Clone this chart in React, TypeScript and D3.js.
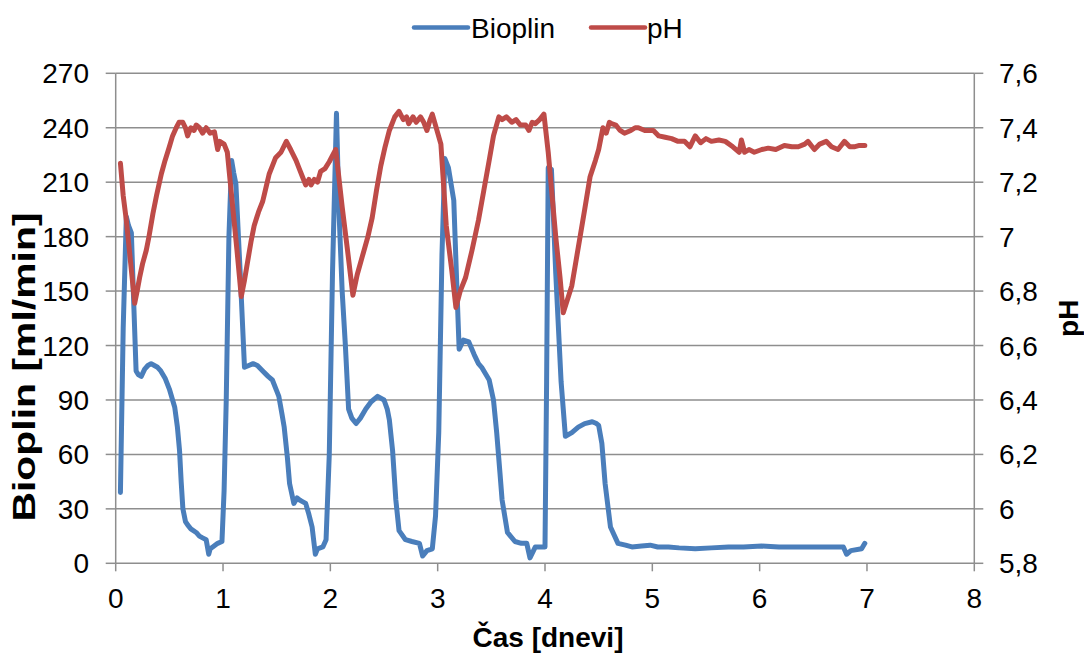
import React from "react";
import * as d3 from "d3";

const bioDays = [0.044,0.07,0.099,0.12,0.146,0.17,0.19,0.21,0.238,0.27,0.30,0.33,0.36,0.39,0.42,0.46,0.50,0.53,0.55,0.575,0.595,0.61,0.626,0.65,0.672,0.70,0.75,0.78,0.81,0.843,0.867,0.88,0.904,0.95,0.99,1.01,1.03,1.055,1.08,1.10,1.12,1.16,1.20,1.24,1.28,1.32,1.37,1.42,1.46,1.50,1.52,1.55,1.57,1.60,1.62,1.66,1.69,1.71,1.74,1.77,1.80,1.83,1.86,1.88,1.93,1.96,1.99,2.02,2.057,2.08,2.11,2.14,2.17,2.20,2.24,2.28,2.33,2.38,2.44,2.50,2.53,2.55,2.58,2.61,2.64,2.70,2.76,2.83,2.86,2.90,2.95,2.98,3.01,3.04,3.067,3.10,3.15,3.18,3.20,3.24,3.29,3.34,3.38,3.41,3.45,3.48,3.52,3.55,3.58,3.60,3.65,3.72,3.78,3.83,3.86,3.91,3.96,4.0,4.015,4.03,4.06,4.10,4.15,4.19,4.25,4.31,4.37,4.44,4.48,4.50,4.53,4.56,4.61,4.68,4.75,4.81,4.90,4.98,5.05,5.15,5.25,5.40,5.55,5.71,5.85,6.02,6.18,6.33,6.48,6.64,6.78,6.81,6.85,6.95,6.98];
const bioValues = [39,130,191,186,182,140,106,104,103,107,109,110,109,108,106,102,96,90,86,75,62,45,30,23,21,19,17,15,14,13,5,8,9,11,12,40,90,180,222,215,209,160,108,109,110,109,106,103,101,95,92,82,75,58,44,33,36,35,34,33,27,20,5,8,9,13,60,160,248,195,150,120,85,80,77,80,85,89,92,90,85,79,62,35,18,13,12,11,4,7,8,26,72,170,223,218,200,150,118,123,122,115,110,108,104,101,90,72,50,35,17,12,11,11,3,9,9,9,100,218,217,160,100,70,72,75,77,78,77,76,66,44,20,11,10,9,9.5,10,9,9,8.5,8,8.5,9,9,9.5,9,9,9,9,9,5,7,8,11];

const phDays = [0.044,0.07,0.099,0.14,0.177,0.20,0.223,0.25,0.285,0.31,0.347,0.38,0.425,0.46,0.50,0.53,0.564,0.59,0.625,0.65,0.67,0.70,0.73,0.75,0.78,0.81,0.843,0.88,0.92,0.95,0.97,1.01,1.04,1.09,1.13,1.17,1.20,1.23,1.26,1.29,1.33,1.37,1.40,1.43,1.46,1.49,1.54,1.59,1.63,1.68,1.71,1.74,1.77,1.80,1.82,1.85,1.88,1.91,1.95,1.99,2.05,2.11,2.16,2.21,2.25,2.30,2.35,2.39,2.43,2.47,2.51,2.55,2.60,2.64,2.68,2.71,2.73,2.77,2.80,2.84,2.87,2.90,2.93,2.95,3.03,3.08,3.13,3.17,3.21,3.26,3.32,3.38,3.43,3.48,3.52,3.57,3.60,3.64,3.69,3.73,3.77,3.82,3.85,3.88,3.91,3.95,3.99,4.03,4.10,4.14,4.17,4.21,4.25,4.31,4.37,4.42,4.47,4.50,4.54,4.57,4.60,4.62,4.66,4.70,4.74,4.80,4.84,4.87,4.93,5.01,5.06,5.12,5.18,5.24,5.30,5.35,5.40,5.45,5.50,5.55,5.62,5.68,5.75,5.81,5.83,5.86,5.90,5.95,6.02,6.08,6.15,6.23,6.30,6.36,6.42,6.45,6.51,6.56,6.62,6.67,6.73,6.79,6.84,6.88,6.93,6.98];
const phValues = [7.27,7.15,7.06,6.90,6.755,6.80,6.85,6.90,6.95,7.00,7.085,7.15,7.23,7.28,7.33,7.37,7.40,7.42,7.42,7.40,7.37,7.40,7.39,7.41,7.40,7.38,7.40,7.38,7.385,7.32,7.35,7.34,7.31,7.11,6.95,6.78,6.84,6.91,6.98,7.04,7.09,7.13,7.18,7.23,7.26,7.29,7.31,7.35,7.32,7.28,7.25,7.22,7.19,7.21,7.19,7.21,7.20,7.24,7.25,7.275,7.32,7.11,6.95,6.785,6.86,6.93,7.00,7.07,7.17,7.26,7.33,7.39,7.44,7.46,7.43,7.44,7.415,7.44,7.42,7.44,7.42,7.39,7.43,7.45,7.34,7.04,6.88,6.74,6.80,6.85,6.95,7.06,7.17,7.28,7.37,7.44,7.43,7.44,7.42,7.43,7.41,7.41,7.39,7.42,7.415,7.43,7.45,7.31,7.00,6.85,6.72,6.77,6.82,6.96,7.10,7.22,7.28,7.32,7.40,7.38,7.42,7.415,7.41,7.39,7.38,7.39,7.40,7.40,7.39,7.39,7.37,7.365,7.36,7.35,7.35,7.33,7.37,7.345,7.36,7.35,7.355,7.35,7.33,7.31,7.355,7.31,7.32,7.31,7.32,7.325,7.32,7.335,7.33,7.33,7.34,7.35,7.32,7.34,7.35,7.33,7.32,7.35,7.33,7.33,7.335,7.335];

const xTicks = [0,1,2,3,4,5,6,7,8];
const leftTicks = [0,30,60,90,120,150,180,210,240,270];
const rightTicks = [5.8,6,6.2,6.4,6.6,6.8,7,7.2,7.4,7.6];

const seriesNames = ["Bioplin", "pH"];
const xTitle = "Čas [dnevi]";
const leftTitle = "Bioplin [ml/min]";
const rightTitle = "pH";

const BLUE = "#4a7ebb";
const RED = "#be4b48";
const GRID = "#8e8e8e";
const FONT = "'Liberation Sans', Arial, sans-serif";

export default function App() {
  const W = 1084, H = 654;
  const left = 115.7, right = 974.3, top = 73.3, bottom = 563.3;
  const x = d3.scaleLinear().domain([0, 8]).range([left, right]);
  const yL = d3.scaleLinear().domain([0, 270]).range([bottom, top]);
  const yR = d3.scaleLinear().domain([5.8, 7.6]).range([bottom, top]);

  const bio = bioDays.map((d, i) => [d, bioValues[i]] as [number, number]);
  const ph = phDays.map((d, i) => [d, phValues[i]] as [number, number]);
  const lineBio = d3.line<[number, number]>().x(d => x(d[0])).y(d => yL(d[1]));
  const linePh = d3.line<[number, number]>().x(d => x(d[0])).y(d => yR(d[1]));
  const fmtR = (v: number) => (Math.round(v * 10) / 10).toString().replace(".", ",");

  return (
    <svg width={W} height={H} style={{ position: "absolute", left: 0, top: 0, background: "#fff" }}
      fontFamily={FONT}>
      <rect x={0} y={0} width={W} height={H} fill="#fff" />
      {leftTicks.filter(t => t > 0).map(t => (
        <line key={"g" + t} x1={left} x2={right} y1={yL(t)} y2={yL(t)} stroke={GRID} strokeWidth={1.5} />
      ))}
      <line x1={left} x2={left} y1={top} y2={bottom} stroke={GRID} strokeWidth={1.5} />
      <line x1={right} x2={right} y1={top} y2={bottom} stroke={GRID} strokeWidth={1.5} />
      <line x1={left} x2={right} y1={bottom} y2={bottom} stroke={GRID} strokeWidth={1.5} />
      {leftTicks.map(t => (
        <g key={"l" + t}>
          <line x1={left - 10} x2={left} y1={yL(t)} y2={yL(t)} stroke={GRID} strokeWidth={1.5} />
          <text x={89} y={yL(t) + 10} textAnchor="end" fontSize={28} fill="#000">{t}</text>
        </g>
      ))}
      {rightTicks.map(t => (
        <g key={"r" + t}>
          <line x1={right} x2={right + 9} y1={yR(t)} y2={yR(t)} stroke={GRID} strokeWidth={1.5} />
          <text x={999} y={yR(t) + 10} textAnchor="start" fontSize={28} fill="#000">{fmtR(t)}</text>
        </g>
      ))}
      {xTicks.map(t => (
        <g key={"x" + t}>
          <line x1={x(t)} x2={x(t)} y1={bottom} y2={bottom + 8} stroke={GRID} strokeWidth={1.5} />
          <text x={x(t)} y={608} textAnchor="middle" fontSize={28} fill="#000">{t}</text>
        </g>
      ))}
      <path d={lineBio(bio) || ""} fill="none" stroke={BLUE} strokeWidth={5} strokeLinejoin="round" strokeLinecap="round" />
      <path d={linePh(ph) || ""} fill="none" stroke={RED} strokeWidth={5} strokeLinejoin="round" strokeLinecap="round" />
      <text x={548} y={647} textAnchor="middle" fontSize={28} fontWeight="bold" fill="#000">{xTitle}</text>
      <text transform={`translate(35,367) rotate(-90) scale(1.32,1)`} textAnchor="middle" fontSize={31} fontWeight="bold" fill="#000">{leftTitle}</text>
      <text transform={`translate(1078,${(top + bottom) / 2}) rotate(-90)`} textAnchor="middle" fontSize={28} fontWeight="bold" fill="#000">{rightTitle}</text>
      <line x1={414} x2={468} y1={27.5} y2={27.5} stroke={BLUE} strokeWidth={4.5} strokeLinecap="round" />
      <text x={471} y={38} fontSize={28} fill="#000">{seriesNames[0]}</text>
      <line x1={591} x2={645} y1={27.5} y2={27.5} stroke={RED} strokeWidth={4.5} strokeLinecap="round" />
      <text x={647} y={38} fontSize={28} fill="#000">{seriesNames[1]}</text>
    </svg>
  );
}
